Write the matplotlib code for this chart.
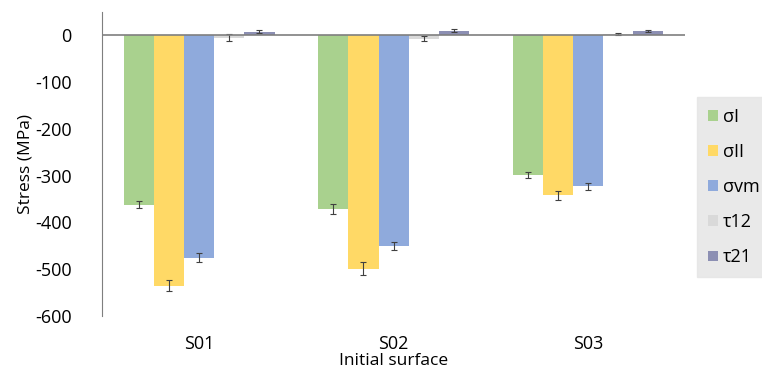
import matplotlib.pyplot as plt
import numpy as np

plt.rcParams['font.family'] = ['Open Sans', 'DejaVu Sans']
plt.rcParams['axes.unicode_minus'] = False

surfaces = ['S01', 'S02', 'S03']
series = ['σI', 'σII', 'σvm', 'τ12', 'τ21']
sigma_1 = [-362, -371, -298]
sigma_2 = [-535, -499, -342]
sigma_vm = [-475, -450, -323]
tau_12 = [-5, -7, 2]
tau_21 = [8, 10, 9]
err_1 = [8, 10, 6]
err_2 = [12, 14, 9]
err_vm = [10, 9, 7]
err_12 = [7, 6, 2]
err_21 = [3, 3, 2]

values = [sigma_1, sigma_2, sigma_vm, tau_12, tau_21]
errors = [err_1, err_2, err_vm, err_12, err_21]
colors = ['#A9D18E', '#FFD966', '#8FAADC', '#D9D9D9', '#8C8FB3']

fig = plt.figure(figsize=(7.62, 3.74), dpi=100)
ax = fig.add_axes([0.134, 0.155, 0.765, 0.813])

x = np.arange(len(surfaces))
w = 0.155
for i, (vals, errs, c) in enumerate(zip(values, errors, colors)):
    pos = x + (i - 2) * w
    ax.bar(pos, vals, w, color=c, label=series[i], zorder=2)
    ax.errorbar(pos, vals, yerr=errs, fmt='none', ecolor='#404040',
                elinewidth=0.8, capsize=2.5, capthick=0.8, zorder=3)

ax.axhline(0, color='#7f7f7f', lw=1.2, zorder=4)
ax.set_xlim(-0.5, 2.5)
ax.set_ylim(-600, 50)
ax.set_yticks(np.arange(-600, 1, 100))
ax.set_xticks(x)
ax.set_xticklabels(surfaces)
for s in ['top', 'right', 'bottom']:
    ax.spines[s].set_visible(False)
ax.spines['left'].set_color('#7f7f7f')
ax.tick_params(axis='y', length=0, labelsize=13, pad=22, colors='#000000')
ax.tick_params(axis='x', length=0, labelsize=13, pad=14)
ax.set_ylabel('Stress (MPa)', fontsize=12.5, labelpad=1)
ax.set_xlabel('Initial surface', fontsize=12.5, labelpad=0)

leg = fig.legend(loc='upper left', bbox_to_anchor=(0.903, 0.765), frameon=True,
                 fontsize=13, handlelength=0.55, handleheight=0.55,
                 handletextpad=0.3, labelspacing=0.95, borderpad=0.6,
                 fancybox=False)
leg.get_frame().set_facecolor('#E4E4E4')
leg.get_frame().set_edgecolor('#E4E4E4')

fig.savefig('out.png', dpi=100)
